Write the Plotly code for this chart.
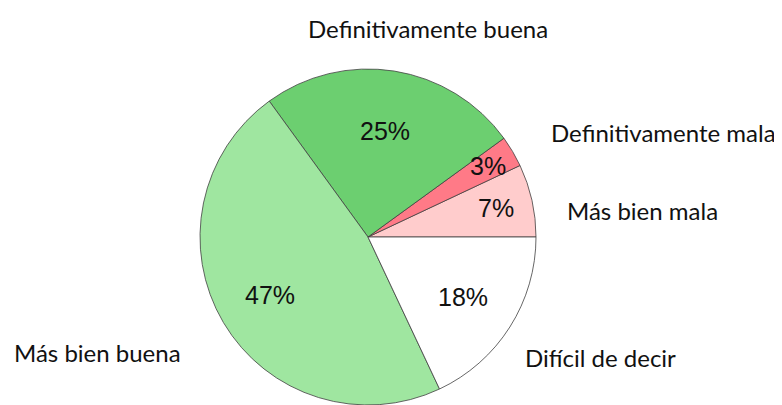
import math
import plotly.graph_objects as go

# survey answers, counter-clockwise from 3 o'clock
labels = ["Más bien mala", "Definitivamente mala", "Definitivamente buena",
          "Más bien buena", "Difícil de decir"]
values = [7, 3, 25, 47, 18]
colors = ["#FFCCCC", "#FF7A87", "#6CCF70", "#9FE6A0", "#FFFFFF"]

# the page body keeps its default 8px margin, so work in window pixels minus 8
OFF = 8
W, H = 782 - OFF, 405 - OFF
cx, cy, r = 368 - OFF, 237 - OFF, 168

# plotly puts the END of the first ccw slice at the rotation angle,
# so turn back by the first slice to make it start at 3 o'clock
total = sum(values)
rotation = 90 - 360 * values[0] / total

fig = go.Figure(go.Pie(
    labels=labels,
    values=values,
    sort=False,
    direction="counterclockwise",
    rotation=rotation,
    marker=dict(colors=colors, line=dict(color="#404040", width=0.8)),
    textinfo="none",
    domain=dict(x=[(cx - r) / W, (cx + r) / W],
                y=[max(0, (H - cy - r) / H), min(1, (H - cy + r) / H)]),
    showlegend=False,
    hoverinfo="label+percent",
))

# percentage labels sit on each slice's middle angle, at these fractions of the radius
pct_radius = [0.78, 0.83, 0.64, 0.68, 0.67]
cum = 0
for v, f in zip(values, pct_radius):
    a = math.radians(360 * (cum + v / 2) / total)
    cum += v
    px = cx + f * r * math.cos(a)
    py = cy - f * r * math.sin(a)
    fig.add_annotation(
        text=f"{round(100 * v / total)}%", x=px / W, y=1 - py / H,
        xref="paper", yref="paper", xanchor="center", yanchor="middle",
        showarrow=False,
        font=dict(family="Liberation Sans, Arial", size=25, color="#111111"),
    )

# category names placed around the pie (window pixels from the top-left)
label_pos = {
    "Definitivamente buena": (428, 28, "center"),
    "Definitivamente mala": (549, 133, "left"),
    "Más bien mala": (565, 210, "left"),
    "Más bien buena": (12, 352, "left"),
    "Difícil de decir": (523, 357, "left"),
}
for name, (px, py, anchor) in label_pos.items():
    fig.add_annotation(
        text=name, x=(px - OFF) / W, y=1 - (py - OFF) / H, xref="paper", yref="paper",
        xanchor=anchor, yanchor="middle", showarrow=False,
        font=dict(family="Lato, Noto Sans", size=24, color="#111111"),
    )

fig.update_layout(
    width=W, height=H,
    margin=dict(l=0, r=0, t=0, b=0),
    paper_bgcolor="white",
)

fig.write_html("out.html")
